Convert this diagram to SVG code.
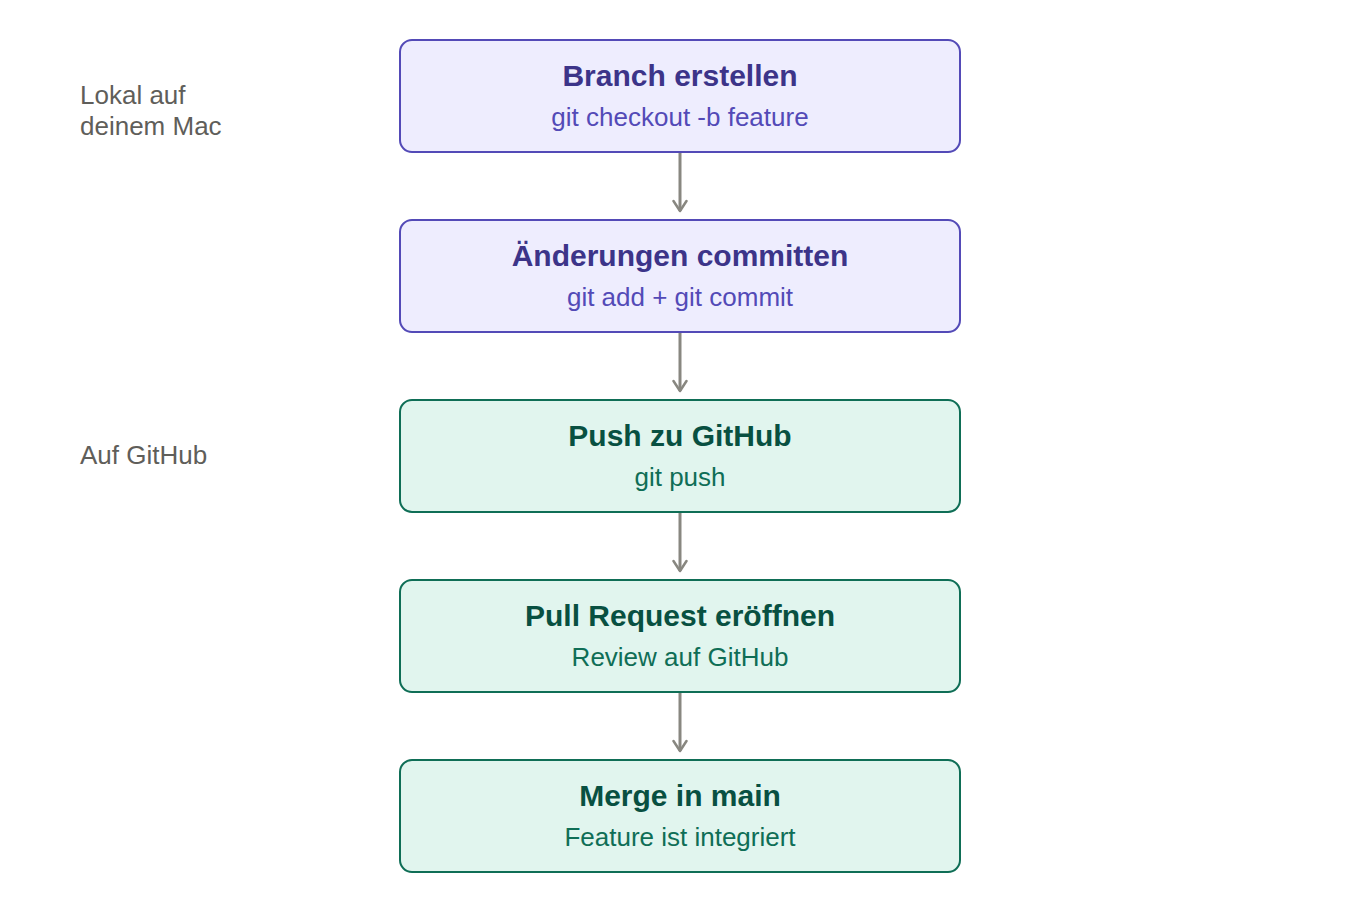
<svg xmlns="http://www.w3.org/2000/svg" width="1360" height="920" viewBox="0 0 1360 920">
<defs>
<marker id="arr" viewBox="0 0 16 16" refX="13" refY="8" markerWidth="16" markerHeight="16" markerUnits="userSpaceOnUse" orient="auto">
<path d="M3 1.5 L13 8 L3 14.5" fill="none" stroke="#888780" stroke-width="2.5" stroke-linecap="round" stroke-linejoin="round"/>
</marker>
<style>
text{font-family:"Liberation Sans",Arial,sans-serif;text-anchor:middle}
.lp rect{fill:#EEEDFE;stroke:#534AB7;stroke-width:2}
.lp .t{fill:#3C3489;font-weight:bold;font-size:30px}
.lp .s{fill:#534AB7;font-size:26px}
.gh rect{fill:#E1F5EE;stroke:#0F6E56;stroke-width:2}
.gh .t{fill:#085041;font-weight:bold;font-size:30px}
.gh .s{fill:#0F6E56;font-size:26px}
.lbl{fill:#5F5E5A;font-size:26px;text-anchor:start}
.edge{stroke:#888780;stroke-width:3;fill:none}
</style>
</defs>
<g id="labels">
<text class="lbl" x="80" y="104">Lokal auf</text>
<text class="lbl" x="80" y="135">deinem Mac</text>
<text class="lbl" x="80" y="464">Auf GitHub</text>
</g>
<g id="connectors">
<line class="edge" x1="680" y1="153" x2="680" y2="211" marker-end="url(#arr)"/>
<line class="edge" x1="680" y1="333" x2="680" y2="391" marker-end="url(#arr)"/>
<line class="edge" x1="680" y1="513" x2="680" y2="571" marker-end="url(#arr)"/>
<line class="edge" x1="680" y1="693" x2="680" y2="751" marker-end="url(#arr)"/>
</g>
<g id="n1" class="lp">
<rect x="400" y="40" width="560" height="112" rx="12"/>
<text class="t" x="680" y="86">Branch erstellen</text>
<text class="s" x="680" y="126">git checkout -b feature</text>
</g>
<g id="n2" class="lp">
<rect x="400" y="220" width="560" height="112" rx="12"/>
<text class="t" x="680" y="266">Änderungen committen</text>
<text class="s" x="680" y="306">git add + git commit</text>
</g>
<g id="n3" class="gh">
<rect x="400" y="400" width="560" height="112" rx="12"/>
<text class="t" x="680" y="446">Push zu GitHub</text>
<text class="s" x="680" y="486">git push</text>
</g>
<g id="n4" class="gh">
<rect x="400" y="580" width="560" height="112" rx="12"/>
<text class="t" x="680" y="626">Pull Request eröffnen</text>
<text class="s" x="680" y="666">Review auf GitHub</text>
</g>
<g id="n5" class="gh">
<rect x="400" y="760" width="560" height="112" rx="12"/>
<text class="t" x="680" y="806">Merge in main</text>
<text class="s" x="680" y="846">Feature ist integriert</text>
</g>
</svg>
